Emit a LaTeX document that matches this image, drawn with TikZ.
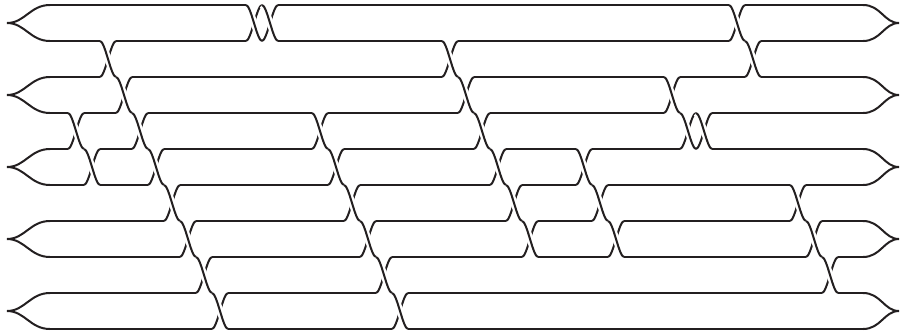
\documentclass[tikz,border=0pt]{standalone}
\tikzset{every picture/.style={line width=1.5pt}}
\tikzset{
strand/.style={color={rgb, 255:red, 35; green, 31; blue, 32 }},
over/.style={preaction={draw=white, line width=5pt}}}

\begin{document}
\begin{tikzpicture}[x=0.75pt,y=0.75pt,yscale=-1,xscale=1]
\useasboundingbox (0,0) rectangle (901,333);

%Shape: Caps left and right
\foreach \y in {5,77,149,221,293} {
\draw [strand] (50,\y) .. controls (30,\y) and (25,\y+18) .. (7,\y+18) .. controls (25,\y+18) and (30,\y+36) .. (50,\y+36) ;
\draw [strand] (863,\y) .. controls (881,\y) and (884,\y+18) .. (899,\y+18) .. controls (884,\y+18) and (881,\y+36) .. (863,\y+36) ;
}

%Shape: Crossings, one row of gaps at a time
\foreach \yt/\xl in {5/{254,270,737}, 41/{108,450,753}, 77/{124,466,672},
  113/{76,140,320,482,688,704}, 149/{92,156,336,498,584},
  185/{172,352,514,600,798}, 221/{188,368,530,616,814},
  257/{204,384,830}, 293/{220,400}} {
\foreach \xc in \xl {
\draw [strand] (\xc-8,\yt+36) .. controls (\xc-3,\yt+36) and (\xc+3,\yt) .. (\xc+8,\yt) ;
\draw [strand, over] (\xc-8,\yt) .. controls (\xc-3,\yt) and (\xc+3,\yt+36) .. (\xc+8,\yt+36) ;
}}

%Straight Lines: strands between crossings
\draw [strand] (50,5) -- (246,5) (278,5) -- (729,5) (745,5) -- (863,5) ;
\draw [strand] (50,41) -- (100,41) (116,41) -- (246,41) (278,41) -- (442,41) (458,41) -- (729,41) (761,41) -- (863,41) ;
\draw [strand] (50,77) -- (100,77) (132,77) -- (442,77) (474,77) -- (664,77) (680,77) -- (745,77) (761,77) -- (863,77) ;
\draw [strand] (50,113) -- (68,113) (84,113) -- (116,113) (148,113) -- (312,113) (328,113) -- (458,113) (490,113) -- (664,113) (712,113) -- (863,113) ;
\draw [strand] (50,149) -- (68,149) (100,149) -- (132,149) (164,149) -- (312,149) (344,149) -- (474,149) (506,149) -- (576,149) (592,149) -- (680,149) (712,149) -- (863,149) ;
\draw [strand] (50,185) -- (84,185) (100,185) -- (148,185) (180,185) -- (328,185) (360,185) -- (490,185) (522,185) -- (576,185) (608,185) -- (790,185) (806,185) -- (863,185) ;
\draw [strand] (50,221) -- (164,221) (196,221) -- (344,221) (376,221) -- (506,221) (538,221) -- (592,221) (624,221) -- (790,221) (822,221) -- (863,221) ;
\draw [strand] (50,257) -- (180,257) (212,257) -- (360,257) (392,257) -- (522,257) (538,257) -- (608,257) (624,257) -- (806,257) (838,257) -- (863,257) ;
\draw [strand] (50,293) -- (196,293) (228,293) -- (376,293) (408,293) -- (822,293) (838,293) -- (863,293) ;
\draw [strand] (50,329) -- (212,329) (228,329) -- (392,329) (408,329) -- (863,329) ;

\end{tikzpicture}
\end{document}
